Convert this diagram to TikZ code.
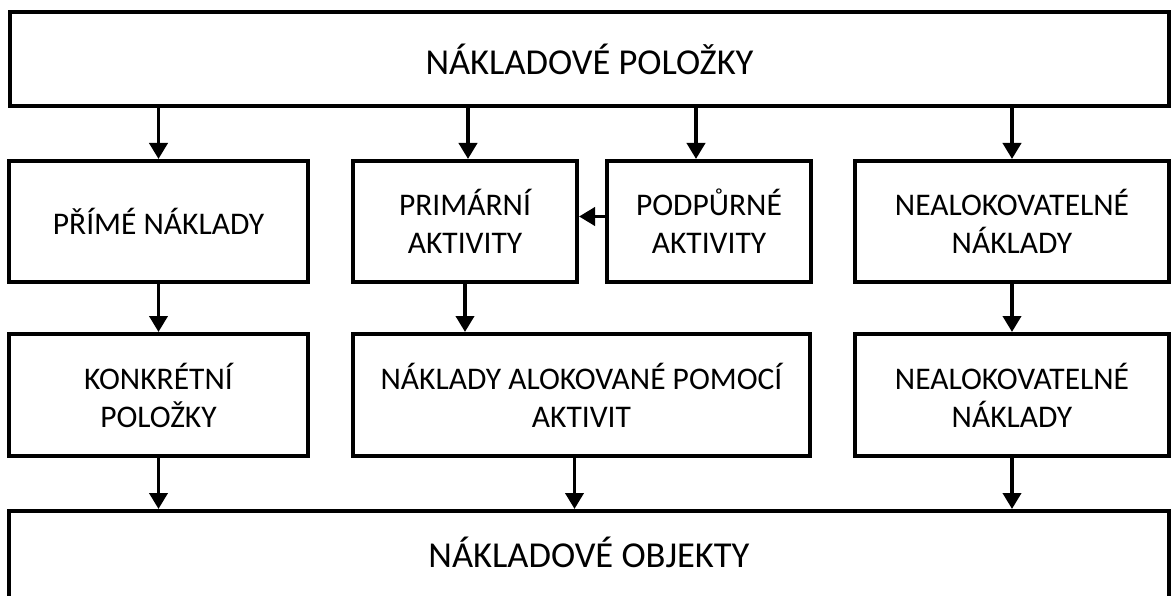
\documentclass[tikz,border=0pt]{standalone}
\usepackage{fontspec}
\setmainfont{Carlito}
\usetikzlibrary{arrows.meta, positioning, calc}

\tikzset{
	box/.style={rectangle, draw, line width=4pt, align=center, inner sep=0pt, font=\fontsize{31.5}{38}\selectfont},
	arr/.style={-{Triangle[width=18pt,length=16pt]}, line width=3.8pt}
}

\begin{document}
\begin{tikzpicture}[x=1pt, y=-1pt]
		\useasboundingbox (0,0) rectangle (1173,596);
		
		\node[box, minimum width=1159pt, minimum height=94pt, font=\fontsize{36.5}{44}\selectfont] (NP) at (589.5,59) {NÁKLADOVÉ POLOŽKY};
		
		\node[box, minimum width=299pt, minimum height=121pt] (PN) at (158.5,221.5) {PŘÍMÉ NÁKLADY};
		\node[box, minimum width=224pt, minimum height=121pt] (PA) at (465,221.5) {PRIMÁRNÍ\\AKTIVITY};
		\node[box, minimum width=204pt, minimum height=121pt] (SA) at (709,221.5) {PODPŮRNÉ\\AKTIVITY};
		\node[box, minimum width=314pt, minimum height=121pt] (NN) at (1012,221.5) {NEALOKOVATELNÉ\\NÁKLADY};
		
		\node[box, minimum width=299pt, minimum height=122pt] (KP) at (158.5,395) {KONKRÉTNÍ\\POLOŽKY};
		\node[box, minimum width=457pt, minimum height=122pt] (NA) at (581.5,395) {NÁKLADY ALOKOVANÉ POMOCÍ\\AKTIVIT};
		\node[box, minimum width=314pt, minimum height=122pt] (NN2) at (1012,395) {NEALOKOVATELNÉ\\NÁKLADY};
		
		\node[box, minimum width=1160pt, minimum height=150pt, anchor=north] (NO) at (589,509) {};
		\node[font=\fontsize{36.5}{44}\selectfont] (NOtxt) at (589,552) {NÁKLADOVÉ OBJEKTY};
		
		\draw[arr] (PN.north |- NP.south) -- (PN.north);
		\draw[arr] ([xshift=3pt]PA.north |- NP.south) -- ([xshift=3pt]PA.north);
		\draw[arr] ([xshift=-13pt]SA.north |- NP.south) -- ([xshift=-13pt]SA.north);
		\draw[arr] (NN.north |- NP.south) -- (NN.north);
		\draw[arr] ([yshift=5pt]SA.west) -- ([yshift=5pt]PA.east);
		
		\draw[arr] (PN.south) -- (KP.north);
		\draw[arr] (PA.south) -- (PA.south |- NA.north);
		\draw[arr] (NN.south) -- (NN2.north);
		
		\draw[arr] (KP.south) -- (KP.south |- NO.north);
		\draw[arr] ([xshift=-7pt]NA.south) -- ([xshift=-7pt]NA.south |- NO.north);
		\draw[arr] (NN2.south) -- (NN2.south |- NO.north);
	\end{tikzpicture}
\end{document}
